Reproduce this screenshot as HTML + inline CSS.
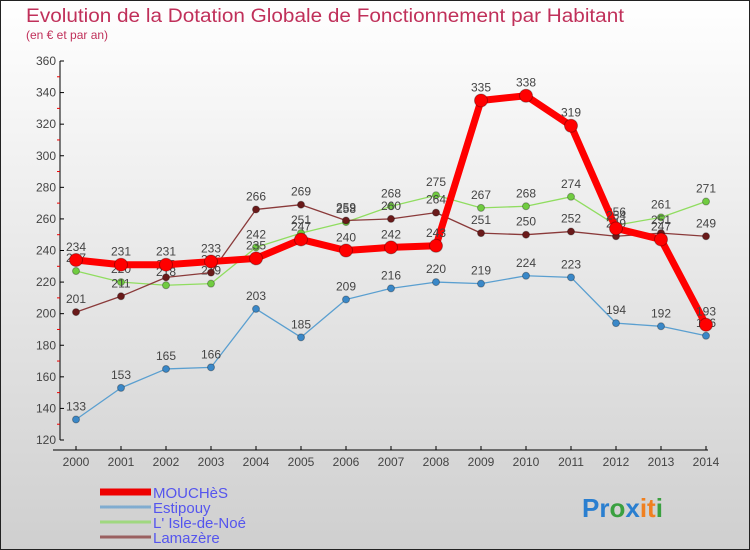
<!DOCTYPE html>
<html><head><meta charset="utf-8"><style>
body{margin:0;}
svg{display:block;font-family:"Liberation Sans",sans-serif;}
</style></head><body>
<svg id="c" width="750" height="550" xmlns="http://www.w3.org/2000/svg">
<defs><linearGradient id="bg" x1="0" y1="0" x2="0" y2="1"><stop offset="0" stop-color="#ffffff"/><stop offset="1" stop-color="#cfcfcf"/></linearGradient></defs>
<rect x="0.5" y="0.5" width="749" height="549" fill="url(#bg)" stroke="#222"/>
<text x="26" y="22" font-size="19" fill="#c0305a" textLength="598" lengthAdjust="spacingAndGlyphs">Evolution de la Dotation Globale de Fonctionnement par Habitant</text>
<text x="26" y="39" font-size="12" fill="#c0305a">(en € et par an)</text>
<g id="axes"></g><g id="series"></g><g id="legend"></g>
<text x="582" y="517" font-size="26" font-weight="bold"><tspan fill="#2a7fd0">Pr</tspan><tspan fill="#3aa040">o</tspan><tspan fill="#2a7fd0">x</tspan><tspan fill="#f08020">it</tspan><tspan fill="#3aa040">i</tspan></text>
</svg>
<script>
const years=[2000,2001,2002,2003,2004,2005,2006,2007,2008,2009,2010,2011,2012,2013,2014];
const mouches=[234,231,231,233,235,247,240,242,243,335,338,319,254,247,193];
const estipouy=[133,153,165,166,203,185,209,216,220,219,224,223,194,192,186];
const isle=[227,220,218,219,242,251,258,268,275,267,268,274,256,261,271];
const lamazere=[201,211,223,226,266,269,259,260,264,251,250,252,249,251,249];
const yTicks=[120,140,160,180,200,220,240,260,280,300,320,340,360];
const NS="http://www.w3.org/2000/svg";
const x=i=>76+i*45;
const y=v=>440-(v-120)*(379/240);
function mk(t,a,p){const e=document.createElementNS(NS,t);for(const k in a)e.setAttribute(k,a[k]);p.appendChild(e);return e;}
const ax=document.getElementById('axes');
let l=mk('line',{x1:60,y1:y(360),x2:60,y2:y(120),stroke:'#000'},ax);


l=mk('line',{x1:53,y1:450,x2:708,y2:450,stroke:'#000'},ax);


yTicks.forEach((v,i)=>{
 mk('line',{x1:60,y1:y(v),x2:64,y2:y(v),stroke:'#000'},ax);
 if(i<yTicks.length-1) mk('line',{x1:57,y1:y(v+10),x2:60,y2:y(v+10),stroke:'#e00'},ax);
 const t=mk('text',{x:56,y:y(v)+4,'font-size':12,fill:'#444','text-anchor':'end'},ax);t.textContent=v;
 
 
});
years.forEach((yr,i)=>{
 mk('line',{x1:x(i),y1:446,x2:x(i),y2:450,stroke:'#000'},ax);
 const t=mk('text',{x:x(i),y:466,'font-size':12,fill:'#444','text-anchor':'middle'},ax);t.textContent=yr;
 
 
});
const S=document.getElementById('series');
function series(name,data,color,dot,w,r){
 const g=mk('g',{},S);
 
 
 mk('polyline',{points:data.map((v,i)=>x(i)+','+y(v)).join(' '),fill:'none',stroke:color,'stroke-width':w,'stroke-linejoin':'round'},g);
 data.forEach((v,i)=>{
  const c=mk('circle',{cx:x(i),cy:y(v),r:r,fill:dot,stroke:'rgba(0,0,0,0.3)'},g);
  
  
  const t=mk('text',{x:x(i),y:y(v)-9,'font-size':12,fill:'#444','text-anchor':'middle'},g);t.textContent=v;
 });
}
series('estipouy',estipouy,'#5a9fd0','#3a88c8',1.3,3.5);
series('isle-de-noe',isle,'#90dd60','#70cc40',1.3,3.5);
series('lamazere',lamazere,'#8a3a3a','#6a1a1a',1.3,3.5);
series('mouches',mouches,'#ff0000','#ff0000',7,6.5);
const L=document.getElementById('legend');
[['MOUCHèS','#ee0000',7],['Estipouy','#80acd0',3],["L' Isle-de-Noé",'#a0d880',3],['Lamazère','#9a6060',3]].forEach((d,i)=>{
 const g=mk('g',{},L);
 
 
 mk('line',{x1:100,y1:492+i*15,x2:151,y2:492+i*15,stroke:d[1],'stroke-width':d[2]},g);
 const t=mk('text',{x:153,y:498+i*15,'font-size':15,fill:'#5555ee'},g);t.textContent=d[0];
});
</script>
</body></html>
